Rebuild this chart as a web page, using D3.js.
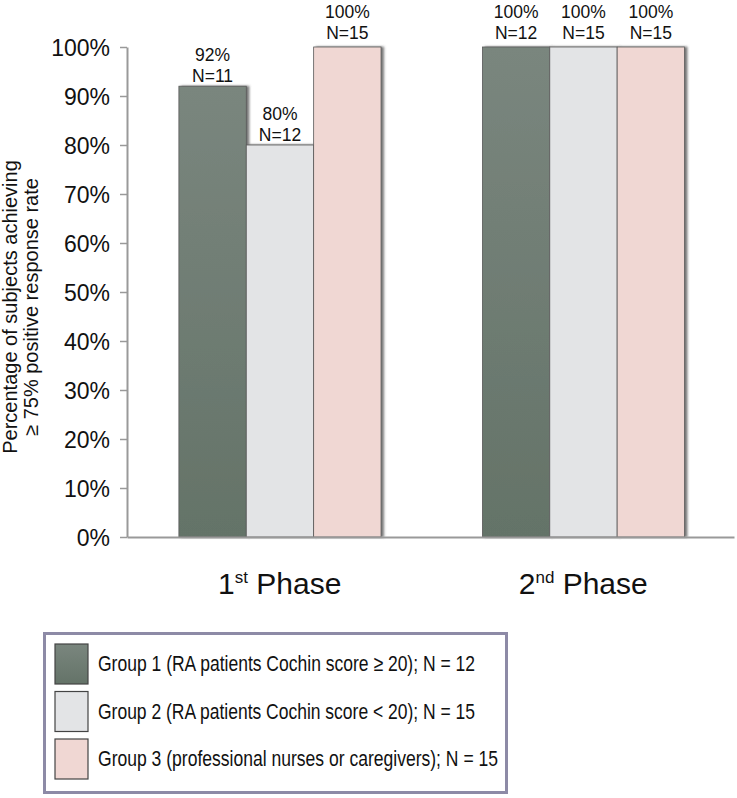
<!DOCTYPE html>
<html><head><meta charset="utf-8">
<script src="https://cdn.jsdelivr.net/npm/d3@7"></script>
<style>body{margin:0;background:#fff;}svg{display:block;font-family:"Liberation Sans",Arial,sans-serif;}</style>
</head><body>
<script>
const phases = ["1st", "2nd"];
const phaseSup = ["st", "nd"];
const phaseNum = ["1", "2"];
const groups = ["Group 1", "Group 2", "Group 3"];
const phase1Values = [0.92, 0.80, 1.00];
const phase2Values = [1.00, 1.00, 1.00];
const phase1N = [11, 12, 15];
const phase2N = [12, 15, 15];
const yTicks = [0, 0.1, 0.2, 0.3, 0.4, 0.5, 0.6, 0.7, 0.8, 0.9, 1.0];
const legendLabels = [
  "Group 1 (RA patients Cochin score \u2265 20); N = 12",
  "Group 2 (RA patients Cochin score < 20); N = 15",
  "Group 3 (professional nurses or caregivers); N = 15"
];
const colors = ["#6e7c72", "#e3e4e6", "#f0d7d3"];

(function(){
const W = 737, H = 798;
const svg = d3.select("body").append("svg").attr("width", W).attr("height", H);
const defs = svg.append("defs");
const g1 = defs.append("linearGradient").attr("id","g1grad").attr("x1",0).attr("y1",0).attr("x2",0).attr("y2",1);
g1.append("stop").attr("offset","0%").attr("stop-color","#7a867e");
g1.append("stop").attr("offset","100%").attr("stop-color","#647368");
const f = defs.append("filter").attr("id","shadow").attr("x","-10%").attr("y","-5%").attr("width","130%").attr("height","110%");
f.append("feDropShadow").attr("dx",2.5).attr("dy",0).attr("stdDeviation",1).attr("flood-color","#555").attr("flood-opacity",0.8);
const fills = ["url(#g1grad)", colors[1], colors[2]];

const mLeft = 127, mRight = 734, mTop = 47, mBottom = 537;
const y = d3.scaleLinear().domain([0, 1]).range([mBottom, mTop]);
const x0 = d3.scaleBand().domain(phases).range([mLeft, mRight]);
const bw = x0.bandwidth();
const x1 = d3.scaleBand().domain(groups).range([bw * 0.171, bw * 0.837]);

const data = [];
phases.forEach((p, i) => {
  const vals = i === 0 ? phase1Values : phase2Values;
  const ns = i === 0 ? phase1N : phase2N;
  groups.forEach((gname, j) => data.push({phase: p, group: gname, gi: j, v: vals[j], n: ns[j]}));
});

// bars
svg.append("g").selectAll("rect").data(data).join("rect")
  .attr("x", d => x0(d.phase) + x1(d.group))
  .attr("y", d => y(d.v))
  .attr("width", x1.bandwidth())
  .attr("height", d => y(0) - y(d.v))
  .attr("fill", d => fills[d.gi])
  .attr("stroke", "#5a5a5a")
  .attr("stroke-width", 0.8)
  .attr("filter", "url(#shadow)");

// labels
const lab = svg.append("g").attr("font-size", 17.5).attr("fill", "#111").attr("text-anchor", "middle");
data.forEach(d => {
  const cx = x0(d.phase) + x1(d.group) + x1.bandwidth() / 2;
  const off = d.v >= 1 ? 8 : 4;
  lab.append("text").attr("x", cx).attr("y", y(d.v) - off - 21).text(d3.format(".0%")(d.v));
  lab.append("text").attr("x", cx).attr("y", y(d.v) - off).text("N=" + d.n);
});

// y axis
const yAxis = d3.axisLeft(y).tickValues(yTicks).tickFormat(d3.format(".0%")).tickSize(7).tickSizeOuter(0);
const ya = svg.append("g").attr("transform", `translate(${mLeft},0)`).call(yAxis);
ya.select(".domain").attr("stroke", "#999").attr("stroke-width", 2);
ya.selectAll(".tick line").attr("stroke", "#999").attr("stroke-width", 1.5);
ya.selectAll(".tick text").attr("font-size", 23).attr("fill", "#111").attr("x", -17).attr("dy", "0.36em")
  .attr("font-family", "Liberation Sans, Arial, sans-serif");

// x axis
const xa = svg.append("g").attr("transform", `translate(0,${mBottom})`).call(d3.axisBottom(x0).tickSize(0).tickFormat(""));
xa.select(".domain").attr("stroke", "#999").attr("stroke-width", 2);

// x labels
phases.forEach((p, i) => {
  const t = svg.append("text").attr("x", x0(p) + bw / 2 + 1).attr("y", 594)
    .attr("text-anchor", "middle").attr("font-size", 30).attr("fill", "#111");
  t.append("tspan").text(phaseNum[i]);
  t.append("tspan").attr("font-size", 17).attr("dy", -11).text(phaseSup[i]);
  t.append("tspan").attr("dy", 11).text(" Phase");
});

// y title
const yt = svg.append("text").attr("transform", "translate(17,307) rotate(-90)")
  .attr("text-anchor", "middle").attr("font-size", 20).attr("fill", "#111");
yt.append("tspan").attr("x", 0).attr("y", 0).text("Percentage of subjects achieving");
yt.append("tspan").attr("x", 0).attr("y", 21).text("\u2265 75% positive response rate");

// legend
const lg = svg.append("g");
lg.append("rect").attr("x", 44.5).attr("y", 633.5).attr("width", 462).attr("height", 159)
  .attr("fill", "#fff").attr("stroke", "#8d8aa6").attr("stroke-width", 3);
legendLabels.forEach((t, i) => {
  const yy = 644 + i * 47.5;
  lg.append("rect").attr("x", 55).attr("y", yy).attr("width", 33).attr("height", 40)
    .attr("fill", fills[i]).attr("stroke", "#444").attr("stroke-width", 1.2);
  lg.append("text").attr("x", 98).attr("y", yy + 27).attr("font-size", 22).attr("fill", "#111")
    .attr("textLength", [377, 377, 400][i]).attr("lengthAdjust", "spacingAndGlyphs").text(t);
});
})();
</script>
</body></html>
